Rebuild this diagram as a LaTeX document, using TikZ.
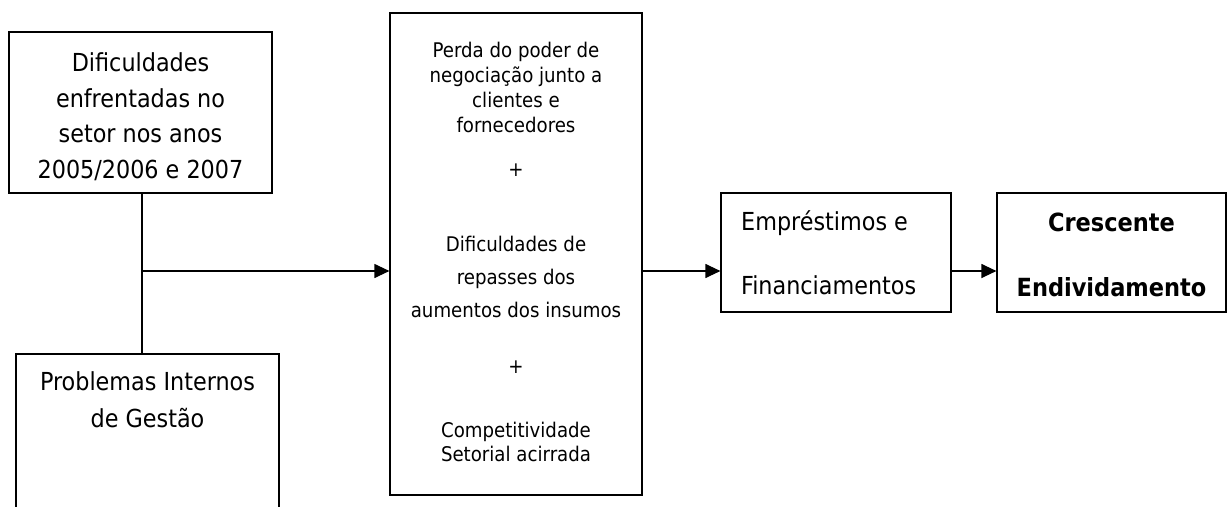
\documentclass[tikz,border=0pt]{standalone}
\usepackage{fontspec}
\setmainfont{DejaVu Sans Condensed}
\usetikzlibrary{arrows.meta,positioning}

\tikzset{
  box/.style={draw, line width=1.2pt, inner sep=0pt},
  txt/.style={inner sep=0pt, anchor=base, align=center},
  arr/.style={line width=1.2pt, -{Triangle[length=15pt,width=14pt]}},
}

\begin{document}
\begin{tikzpicture}[x=1pt,y=-1pt]
    \useasboundingbox (0,0) rectangle (1231,506);
    \clip (0,0) rectangle (1231,506);
    % boxes
    \node[box, minimum width=263pt, minimum height=161pt] (boxA) at (140.5,112.5) {};
    \node[box, minimum width=263pt, minimum height=180pt] (boxB) at (147.5,444) {};
    \node[box, minimum width=252pt, minimum height=482pt] (mid) at (516,254) {};
    \node[box, minimum width=230pt, minimum height=119pt] (boxC) at (836,252.5) {};
    \node[box, minimum width=229pt, minimum height=119pt] (boxD) at (1111.5,252.5) {};
    % texts (anchored at the baseline of the last line)
    \node[txt, font=\fontsize{24.8}{35.5}\selectfont] (tA) at (140.5,178)
        {Dificuldades\\enfrentadas no\\setor nos anos\\2005/2006 e 2007};
    \node[txt, font=\fontsize{24.8}{37}\selectfont] (tB) at (147.5,427)
        {Problemas Internos\\de Gestão};
    \node[txt, font=\fontsize{20.2}{24.7}\selectfont] (t1) at (516,132)
        {Perda do poder de\\negociação junto a\\clientes e\\fornecedores};
    \node[txt, font=\fontsize{20.2}{24}\selectfont] (plus1) at (516,176) {+};
    \node[txt, font=\fontsize{20.2}{33}\selectfont] (t2) at (516,317)
        {Dificuldades de\\repasses dos\\aumentos dos insumos};
    \node[txt, font=\fontsize{20.2}{24}\selectfont] (plus2) at (516,373) {+};
    \node[txt, font=\fontsize{20.2}{24}\selectfont] (t3) at (516,461)
        {Competitividade\\Setorial acirrada};
    \node[txt, anchor=base west, align=left, font=\fontsize{24.8}{64}\selectfont] (tC) at (741,294)
        {Empréstimos e\\Financiamentos};
    \node[txt, font=\fontsize{25}{65}\selectfont\bfseries] (tD) at (1111.5,296)
        {Crescente\\Endividamento};
    % connectors
    \coordinate (j) at (142,271);
    \draw[line width=1.2pt] (boxA.south -| j) -- (boxB.north -| j);
    \draw[arr] (j) -- (j -| mid.west);
    \draw[arr] (j -| mid.east) -- (j -| boxC.west);
    \draw[arr] (j -| boxC.east) -- (j -| boxD.west);
\end{tikzpicture}
\end{document}
